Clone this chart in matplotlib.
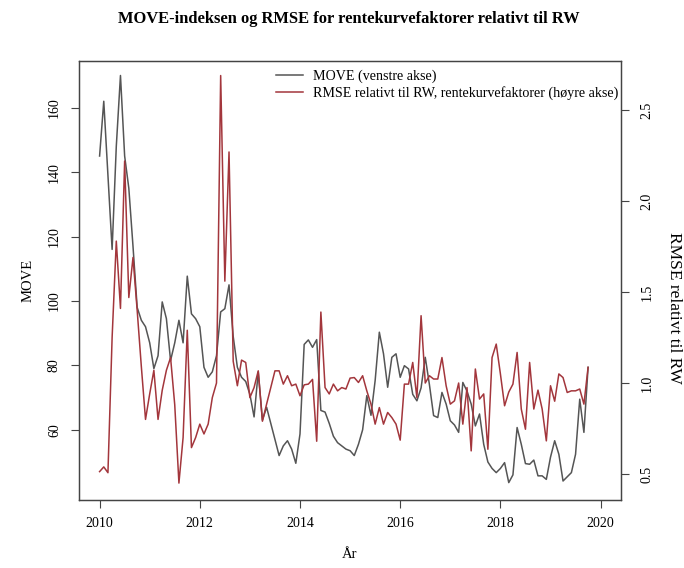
import matplotlib
matplotlib.use("Agg")
import matplotlib.pyplot as plt
import numpy as np

plt.rcParams['font.family'] = ['Liberation Serif', 'DejaVu Serif']

# ---- data (monthly, Jan 2010 - Oct 2019) ----
move = [145, 162, 139, 116, 148, 170, 145, 135, 117, 98,
        94, 92, 87, 79, 83, 99.7, 94.5, 81.5, 87, 94,
        87, 107.7, 96, 94.5, 92, 79.4, 76.3, 78, 83, 96.6,
        97.6, 105, 89, 79.4, 76.3, 75, 71, 64, 78, 63,
        67, 62, 57, 52, 55, 56.6, 54, 49.6, 58.7, 86.5,
        87.9, 85.6, 88, 66, 65.5, 62, 58, 56, 55, 54,
        53.5, 52, 55.5, 60, 70.6, 64.5, 75.3, 90.3, 83.6, 73.2,
        82.5, 83.6, 76.3, 79.9, 78.9, 71, 69, 73, 82.5, 74,
        64.4, 63.8, 71.6, 68, 62.8, 61.5, 59.2, 74.7, 72, 68,
        61.2, 64.9, 55.5, 50, 48, 46.7, 48, 49.8, 43.6, 46,
        60.7, 55.5, 49.5, 49.3, 50.6, 45.7, 45.7, 44.6, 51.5, 56.6,
        52.4, 44.1, 45.4, 46.7, 52.4, 69.5, 59.2, 79.4]

rmse = [0.513, 0.539, 0.507, 1.25, 1.78, 1.41, 2.22, 1.47, 1.69, 1.40,
        1.09, 0.80, 0.94, 1.07, 0.80, 0.96, 1.07, 1.14, 0.88, 0.45,
        0.70, 1.29, 0.645, 0.70, 0.774, 0.72, 0.774, 0.92, 1.0, 2.69,
        1.56, 2.27, 1.12, 0.985, 1.126, 1.113, 0.92, 0.975, 1.067, 0.79,
        0.884, 0.975, 1.067, 1.067, 0.994, 1.04, 0.985, 0.994, 0.93, 0.99,
        0.994, 1.02, 0.68, 1.39, 0.975, 0.94, 0.994, 0.957, 0.975, 0.967,
        1.027, 1.03, 1.003, 1.04, 0.957, 0.884, 0.774, 0.865, 0.774, 0.838,
        0.81, 0.774, 0.686, 0.994, 0.994, 1.113, 0.92, 1.37, 1.0, 1.04,
        1.022, 1.022, 1.14, 0.985, 0.884, 0.902, 1.0, 0.774, 0.975, 0.627,
        1.077, 0.912, 0.94, 0.636, 1.14, 1.214, 1.05, 0.875, 0.95, 0.994,
        1.168, 0.857, 0.746, 1.113, 0.857, 0.961, 0.857, 0.682, 0.985, 0.90,
        1.05, 1.03, 0.948, 0.957, 0.957, 0.967, 0.884, 1.086]

start_year = 2010
dates = start_year + np.arange(len(move)) / 12.0

x_ticks = [2010, 2012, 2014, 2016, 2018, 2020]
left_ticks = [60, 80, 100, 120, 140, 160]
right_ticks = [0.5, 1.0, 1.5, 2.0, 2.5]

title = "MOVE-indeksen og RMSE for rentekurvefaktorer relativt til RW"
label_move = "MOVE (venstre akse)"
label_rmse = "RMSE relativt til RW, rentekurvefaktorer (høyre akse)"

# ---- figure ----
W, H = 684, 568
fig = plt.figure(figsize=(W / 100, H / 100), dpi=100)

def fx(x):
    return x / W

def fy(y):
    return 1 - y / H

L, R, T, B = 79, 621, 61, 500
ax = fig.add_axes([fx(L), fy(B), fx(R) - fx(L), fy(T) - fy(B)])
ax2 = ax.twinx()

c_move = '#555555'
c_rmse = '#a3363c'

l1, = ax.plot(dates, move, color=c_move, lw=1.1)
l2, = ax2.plot(dates, rmse, color=c_rmse, lw=1.1)

ax.set_xlim(2009.589, 2020.407)
ax.set_ylim(38.2, 174.5)
ax2.set_ylim(0.357, 2.770)

ax.set_xticks(x_ticks)
ax.set_xticklabels([str(t) for t in x_ticks])
ax.set_yticks(left_ticks)
ax.set_yticklabels([str(t) for t in left_ticks], rotation=90, va='center')
ax2.set_yticks(right_ticks)
ax2.set_yticklabels([f"{t:.1f}" for t in right_ticks], rotation=90, va='center')

for a in (ax, ax2):
    for s in a.spines.values():
        s.set_color('#444444')
        s.set_linewidth(0.9)

ax.tick_params(axis='both', direction='out', length=6, width=0.8, color='#444444',
               labelsize=10, pad=7, top=False)
ax.tick_params(axis='x', pad=6)
ax2.tick_params(axis='y', direction='out', length=6, width=0.8, color='#444444',
                labelsize=10, pad=8)

fig.text(fx(349), fy(19), title, ha='center', va='center',
         fontsize=11.9, fontweight='bold')
fig.text(fx(350), fy(554), "År", ha='center', va='center', fontsize=10.5)
fig.text(fx(28), fy(280), "MOVE", ha='center', va='center', rotation=90, fontsize=10.5)
fig.text(fx(674), fy(308), "RMSE relativt til RW", ha='center', va='center',
         rotation=-90, fontsize=12.5)

ax2.legend([l1, l2], [label_move, label_rmse], loc='upper left',
           bbox_to_anchor=(fx(276), fy(70)), bbox_transform=fig.transFigure,
           frameon=False, borderpad=0, borderaxespad=0, handlelength=1.9,
           handletextpad=0.75, labelspacing=0.2, fontsize=10.1)

fig.savefig("out.png", dpi=100)
